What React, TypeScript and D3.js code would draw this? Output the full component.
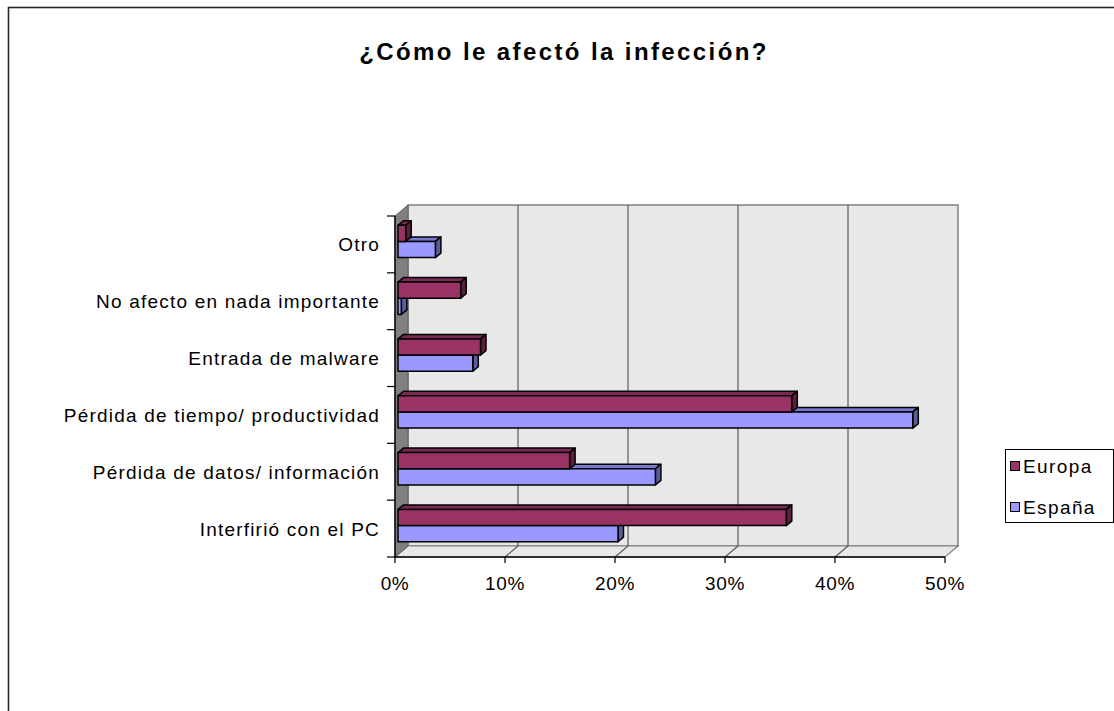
import React from 'react';
import * as d3 from 'd3';

const categories = [
  'Otro',
  'No afecto en nada importante',
  'Entrada de malware',
  'Pérdida de tiempo/ productividad',
  'Pérdida de datos/ información',
  'Interfirió con el PC ',
];
const europa = [0.7, 5.7, 7.5, 35.8, 15.6, 35.3];
const espana = [3.4, 0.3, 6.8, 46.8, 23.4, 20.0];
const xTicks = [0, 10, 20, 30, 40, 50];
const seriesNames = ['Europa', 'España'];
const title = '¿Cómo le afectó la infección?';

const FONT = '"Liberation Sans", Arial, sans-serif';

const COLORS = {
  Europa: { front: '#993366', top: '#7A2952', side: '#5C1F3D' },
  España: { front: '#9999FF', top: '#7A7ACC', side: '#5C5C99' },
};

export default function App() {
  const x = d3.scaleLinear().domain([0, 50]).range([395, 945]);
  const y = d3.scaleBand<string>().domain(categories).range([216, 557]);
  const DX = 13;
  const DY = -11;
  const bdx = 3;
  const bdy = -3;
  const bx = 5.5;
  const by = -4.5;
  const barH = 16.2;
  const yTop = 216;
  const yBot = 557;

  const pts = (arr: number[][]) => arr.map((p) => p.join(',')).join(' ');

  const bar = (key: string, v: number, top: number, bottom: number, c: { front: string; top: string; side: string }) => {
    const x0 = x(0) + bdx;
    const x1 = x(v) + bdx;
    return (
      <g key={key} stroke="#000" strokeWidth={1.5} strokeLinejoin="round">
        <polygon points={pts([[x0, top], [x0 + bx, top + by], [x1 + bx, top + by], [x1, top]])} fill={c.top} />
        <polygon points={pts([[x1, top], [x1 + bx, top + by], [x1 + bx, bottom + by], [x1, bottom]])} fill={c.side} />
        <rect x={x0} y={top} width={x1 - x0} height={bottom - top} fill={c.front} />
      </g>
    );
  };

  return (
    <svg
      width={1114}
      height={711}
      style={{ position: 'absolute', left: 0, top: 0, background: '#fff' }}
      fontFamily={FONT}
    >
      <rect x={8.5} y={7.5} width={1200} height={800} fill="#fff" stroke="#2a2a2a" strokeWidth={1.6} />

      <text x={564} y={60} textAnchor="middle" fontSize={24} fontWeight="bold" letterSpacing={2.4}>
        {title}
      </text>

      {/* back wall */}
      <rect x={x(0) + DX} y={yTop + DY} width={x(50) - x(0)} height={yBot - yTop} fill="#E8E8E8" stroke="#808080" strokeWidth={1.5} />
      {/* floor */}
      <polygon
        points={pts([[x(0), yBot], [x(0) + DX, yBot + DY], [x(50) + DX, yBot + DY], [x(50), yBot]])}
        fill="#E8E8E8"
        stroke="#808080"
        strokeWidth={1.2}
      />
      {/* left wall */}
      <polygon
        points={pts([[x(0), yTop], [x(0) + DX, yTop + DY], [x(0) + DX, yBot + DY], [x(0), yBot]])}
        fill="#808080"
        stroke="#606060"
        strokeWidth={1}
      />
      {/* gridlines */}
      {xTicks.slice(1, -1).map((t) => (
        <g key={'g' + t} stroke="#5a5a5a" strokeWidth={1.2}>
          <line x1={x(t) + DX} x2={x(t) + DX} y1={yTop + DY} y2={yBot + DY} />
          <line x1={x(t)} x2={x(t) + DX} y1={yBot} y2={yBot + DY} />
        </g>
      ))}

      {/* axes */}
      <line x1={x(0)} x2={x(0)} y1={yTop} y2={yBot} stroke="#000" strokeWidth={1.4} />
      <line x1={x(0)} x2={x(50)} y1={yBot} y2={yBot} stroke="#000" strokeWidth={1.4} />
      {categories.map((c) => (
        <line key={'yt' + c} x1={387} x2={x(0)} y1={y(c)!} y2={y(c)!} stroke="#000" strokeWidth={1.2} />
      ))}
      <line x1={387} x2={x(0)} y1={yBot} y2={yBot} stroke="#000" strokeWidth={1.2} />
      {xTicks.map((t) => (
        <g key={'xt' + t}>
          <line x1={x(t)} x2={x(t)} y1={yBot} y2={yBot + 6} stroke="#000" strokeWidth={1.2} />
          <text x={x(t)} y={590} textAnchor="middle" fontSize={19} letterSpacing={0.6}>
            {t + '%'}
          </text>
        </g>
      ))}

      {/* bars */}
      {categories.map((c, i) => {
        const center = y(c)! + y.bandwidth() / 2 + bdy;
        return (
          <g key={'b' + c}>
            {bar('es' + i, espana[i], center, center + barH, COLORS['España'])}
            {bar('eu' + i, europa[i], center - barH, center, COLORS['Europa'])}
          </g>
        );
      })}

      {/* category labels */}
      {categories.map((c) => (
        <text key={'l' + c} x={380} y={y(c)! + y.bandwidth() / 2 + 7} textAnchor="end" fontSize={19} letterSpacing={1.2}>
          {c}
        </text>
      ))}

      {/* legend */}
      <rect x={1005.5} y={449.5} width={108} height={73} fill="#fff" stroke="#000" strokeWidth={1} />
      {seriesNames.map((s, i) => (
        <g key={'lg' + s}>
          <rect
            x={1010.5}
            y={461.5 + i * 41}
            width={9}
            height={9}
            fill={COLORS[s as 'Europa' | 'España'].front}
            stroke="#000"
            strokeWidth={1}
          />
          <text x={1023} y={473 + i * 41} fontSize={19} letterSpacing={1.4}>
            {s}
          </text>
        </g>
      ))}
    </svg>
  );
}
